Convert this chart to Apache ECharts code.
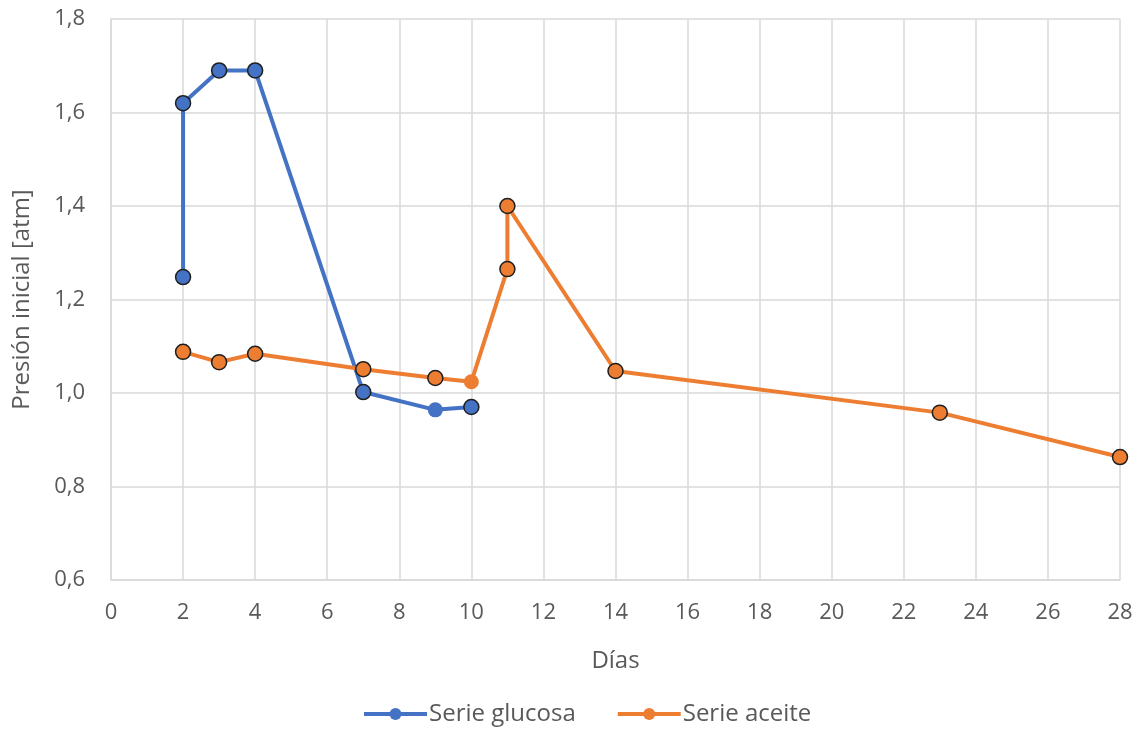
<!DOCTYPE html>
<html>
<head>
<meta charset="utf-8">
<script src="https://cdn.jsdelivr.net/npm/echarts@6/dist/echarts.min.js"></script>
<style>
  html, body { margin: 0; padding: 0; background: #fff; }
  #chart { width: 1141px; height: 732px; }
</style>
</head>
<body>
<div id="chart"></div>
<script>
// Días de medición y presión inicial [atm] de cada serie
const glucosaDias = [2, 2, 3, 4, 7, 9, 10];
const glucosaPresion = [1.248, 1.62, 1.69, 1.69, 1.002, 0.964, 0.970];
const glucosaSinBorde = [false, false, false, false, false, true, false];

const aceiteDias = [2, 3, 4, 7, 9, 10, 11, 11, 14, 23, 28];
const aceitePresion = [1.088, 1.066, 1.084, 1.051, 1.032, 1.024, 1.265, 1.400, 1.047, 0.958, 0.863];
const aceiteSinBorde = [false, false, false, false, false, true, false, false, false, false, false];

const xTicks = { min: 0, max: 28, interval: 2 };
const yTicks = { min: 0.6, max: 1.8, interval: 0.2 };

const AZUL = '#4472C4';
const NARANJA = '#ED7D31';
const TEXTO = '#595959';
const FUENTE = '"Open Sans", "Liberation Sans", sans-serif';

function puntos(dias, valores, sinBorde) {
  return dias.map((d, i) => {
    const item = { value: [d, valores[i]] };
    if (sinBorde[i]) item.itemStyle = { borderWidth: 0 };
    return item;
  });
}

function serie(nombre, color, datos) {
  return {
    name: nombre,
    type: 'line',
    data: datos,
    symbol: 'circle',
    symbolSize: 15,
    lineStyle: { color: color, width: 4 },
    itemStyle: { color: color, borderColor: '#1f1f1f', borderWidth: 1.5 },
    emphasis: { disabled: true },
    animation: false
  };
}

const chart = echarts.init(document.getElementById('chart'));
chart.setOption({
  backgroundColor: '#ffffff',
  textStyle: { fontFamily: FUENTE },
  grid: { left: 111, right: 21, top: 19, bottom: 152, containLabel: false, outerBoundsMode: 'none' },
  xAxis: {
    type: 'value',
    min: xTicks.min, max: xTicks.max, interval: xTicks.interval,
    name: 'Días',
    nameLocation: 'middle',
    nameGap: 69,
    nameTextStyle: { color: TEXTO, fontSize: 24, fontFamily: FUENTE },
    axisLine: { show: true, lineStyle: { color: '#d9d9d9', width: 1.5 } },
    axisTick: { show: false },
    axisLabel: { color: TEXTO, fontSize: 22, margin: 22, fontFamily: FUENTE },
    splitLine: { show: true, lineStyle: { color: '#d9d9d9', width: 1.5 } }
  },
  yAxis: {
    type: 'value',
    min: yTicks.min, max: yTicks.max, interval: yTicks.interval,
    name: 'Presión inicial [atm]',
    nameLocation: 'middle',
    nameGap: 77,
    nameTextStyle: { color: TEXTO, fontSize: 24, fontFamily: FUENTE },
    axisLine: { show: true, lineStyle: { color: '#d9d9d9', width: 1.5 } },
    axisTick: { show: false },
    axisLabel: {
      color: TEXTO, fontSize: 22, margin: 26, fontFamily: FUENTE,
      formatter: v => v.toFixed(1).replace('.', ',')
    },
    splitLine: { show: true, lineStyle: { color: '#d9d9d9', width: 1.5 } }
  },
  legend: {
    top: 702,
    left: 362,
    padding: 0,
    itemWidth: 63,
    itemHeight: 15,
    itemGap: 40,
    textStyle: { color: TEXTO, fontSize: 24, fontFamily: FUENTE, padding: [0, 0, 0, -3] },
    data: [
      { name: 'Serie glucosa', itemStyle: { borderWidth: 0 }, lineStyle: { width: 4 } },
      { name: 'Serie aceite', itemStyle: { borderWidth: 0 }, lineStyle: { width: 4 } }
    ]
  },
  series: [
    serie('Serie glucosa', AZUL, puntos(glucosaDias, glucosaPresion, glucosaSinBorde)),
    serie('Serie aceite', NARANJA, puntos(aceiteDias, aceitePresion, aceiteSinBorde))
  ]
});
</script>
</body>
</html>
